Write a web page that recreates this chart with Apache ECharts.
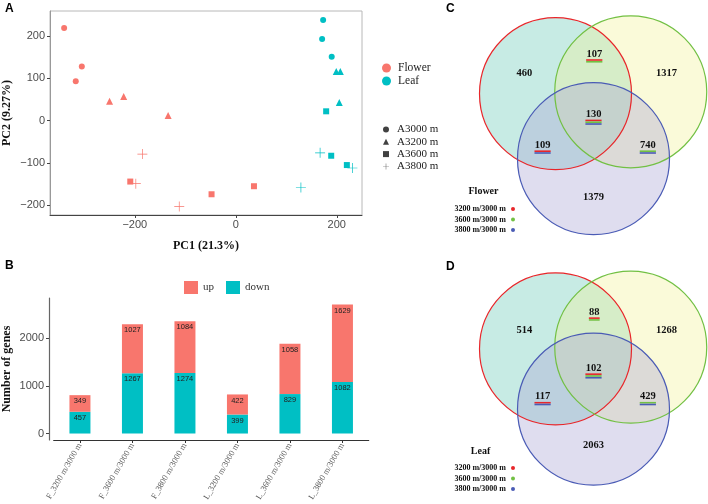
<!DOCTYPE html>
<html><head><meta charset="utf-8">
<script src="https://cdn.jsdelivr.net/npm/echarts@6/dist/echarts.min.js"></script>
<style>html,body{margin:0;padding:0;background:#fff}#c{width:708px;height:504px}</style>
</head><body><div id="c"></div>
<script>
// ---------- DATA ----------
// PCA scores [PC1, PC2, elevation]
const pcaFlower = [
  [-340, 219, 'A3000 m'], [-305, 128, 'A3000 m'], [-317, 93, 'A3000 m'],
  [-250, 46, 'A3200 m'], [-222, 57, 'A3200 m'], [-134, 12, 'A3200 m'],
  [-209, -144, 'A3600 m'], [-48, -174, 'A3600 m'], [36, -155, 'A3600 m'],
  [-185, -79, 'A3800 m'], [-198, -149, 'A3800 m'], [-112, -203, 'A3800 m']
];
const pcaLeaf = [
  [173, 238, 'A3000 m'], [171, 193, 'A3000 m'], [190, 151, 'A3000 m'],
  [199, 116, 'A3200 m'], [207, 116, 'A3200 m'], [205, 43, 'A3200 m'],
  [179, 22, 'A3600 m'], [189, -83, 'A3600 m'], [220, -105, 'A3600 m'],
  [167, -76, 'A3800 m'], [129, -158, 'A3800 m'], [231, -112, 'A3800 m']
];
const elevations = ['A3000 m', 'A3200 m', 'A3600 m', 'A3800 m'];
const pcaXTicks = [-200, 0, 200];
const pcaYTicks = [-200, -100, 0, 100, 200];

// DEG bar chart
const barCategories = ['F_3200 m/3000 m', 'F_3600 m/3000 m', 'F_3800 m/3000 m',
                       'L_3200 m/3000 m', 'L_3600 m/3000 m', 'L_3800 m/3000 m'];
const upValues = [349, 1027, 1084, 422, 1058, 1629];
const downValues = [457, 1267, 1274, 399, 829, 1082];
const barYTicks = [0, 1000, 2000];

// Venn: regions order = A only, B only, C only, A&B, A&C, B&C, A&B&C
const vennSetNames = ['3200 m/3000 m', '3600 m/3000 m', '3800 m/3000 m'];
const flowerVenn = [460, 1317, 1379, 107, 109, 740, 130];
const leafVenn = [514, 1268, 2063, 88, 117, 429, 102];

// ---------- LAYOUT / STYLE ----------
const SANS = 'Liberation Sans, Arial, sans-serif';
const SERIF = 'Liberation Serif, Times New Roman, serif';
const RED = '#F8766D', CYAN = '#00BFC4';
const shapeOf = {
  'A3000 m': 'circle', 'A3200 m': 'triangle', 'A3600 m': 'rect',
  'A3800 m': 'path://M4.65,0h0.7v4.65h4.65v0.7h-4.65v4.65h-0.7v-4.65h-4.65v-0.7h4.65z'
};
const sizeOf = {'A3000 m': 6, 'A3200 m': 7, 'A3600 m': 6, 'A3800 m': 10};
const vennStroke = ['#e8262a', '#72c043', '#4a5bb5'];
const vennFill = ['rgba(100,200,180,0.36)', 'rgba(240,240,150,0.36)', 'rgba(170,165,212,0.38)'];
// circle centres in units of radius
const vennCentres = [[0, 0], [0.99, -0.025], [0.5, 0.855]];
const regionPos = [[-0.41, -0.265], [1.46, -0.265], [0.5, 1.36], [0.51, -0.525], [-0.17, 0.675], [1.215, 0.675], [0.5, 0.27]];
const regionMask = [[0], [1], [2], [0, 1], [0, 2], [1, 2], [0, 1, 2]];

const chart = echarts.init(document.getElementById('c'), null, {renderer: 'canvas'});
const minus = v => String(v).replace('-', '\u2212');

function scatterSeries(name, data, color) {
  return {
    type: 'scatter', name: name, xAxisIndex: 0, yAxisIndex: 0,
    data: data,
    symbol: v => shapeOf[v[2]],
    symbolSize: v => sizeOf[v[2]],
    itemStyle: {color: color, opacity: 1},
    emphasis: {disabled: true}, z: 3
  };
}

function vennSeries(gi, counts) {
  const out = [];
  out.push({
    type: 'custom', xAxisIndex: gi, yAxisIndex: gi, silent: true, z: 1,
    data: vennCentres.map((c, i) => [c[0], c[1], i]),
    renderItem: (p, api) => {
      const pt = api.coord([api.value(0), api.value(1)]);
      const r = api.size([1, 0])[0];
      return {type: 'circle', shape: {cx: pt[0], cy: pt[1], r: r},
              style: {fill: vennFill[api.value(2)], stroke: null}};
    }
  });
  vennSetNames.forEach((nm, i) => {
    out.push({
      type: 'custom', name: nm, xAxisIndex: gi, yAxisIndex: gi, silent: true, z: 2,
      itemStyle: {color: vennStroke[i]},
      data: [[vennCentres[i][0], vennCentres[i][1]]],
      renderItem: (p, api) => {
        const pt = api.coord([api.value(0), api.value(1)]);
        const r = api.size([1, 0])[0];
        return {type: 'circle', shape: {cx: pt[0], cy: pt[1], r: r},
                style: {fill: null, stroke: vennStroke[i], lineWidth: 1.2}};
      }
    });
  });
  out.push({
    type: 'custom', xAxisIndex: gi, yAxisIndex: gi, silent: true, z: 4,
    data: counts.map((v, k) => [regionPos[k][0], regionPos[k][1], v, k]),
    renderItem: (p, api) => {
      const pt = api.coord([api.value(0), api.value(1)]);
      const txt = String(api.value(2));
      const k = api.value(3);
      const kids = [{type: 'text', x: pt[0], y: pt[1],
        style: {text: txt, fill: '#111', font: 'bold 10.5px ' + SERIF,
                align: 'center', verticalAlign: 'middle', textAlign: 'center', textVerticalAlign: 'middle'}}];
      const m = regionMask[k];
      if (m.length > 1) {
        const w = txt.length * 5.4;
        m.forEach((si, j) => {
          const yy = pt[1] + 6.2 + j * 1.8;
          kids.push({type: 'line', shape: {x1: pt[0] - w / 2, y1: yy, x2: pt[0] + w / 2, y2: yy},
                     style: {stroke: vennStroke[si], lineWidth: 1.6}});
        });
      }
      return {type: 'group', children: kids};
    }
  });
  return out;
}

const hiddenAxis = (idx, min, max, inverse) => ({
  gridIndex: idx, type: 'value', min: min, max: max, inverse: !!inverse, show: false,
  splitLine: {show: false}
});

const barLabel = {show: true, position: 'insideTop', distance: 2,
                  fontFamily: SANS, fontSize: 7.5, color: '#222'};

const option = {
  animation: false,
  backgroundColor: '#fff',
  grid: [
    {left: 48, top: 11, width: 314, height: 204, show: true, borderColor: '#b8b8b8', borderWidth: 1},
    {left: 52.7, top: 298, width: 316, height: 142},
    {left: 456.7, top: 10.1, width: 250.8, height: 250.8},
    {left: 456.7, top: 271.4, width: 250.8, height: 250.8}
  ],
  xAxis: [
    {gridIndex: 0, type: 'value', min: -368, max: 250,
     name: 'PC1 (21.3%)', nameLocation: 'middle', nameGap: 25,
     nameTextStyle: {fontFamily: SERIF, fontWeight: 'bold', fontSize: 12, color: '#111'},
     axisLine: {show: true, onZero: false, lineStyle: {color: '#444', width: 1}},
     axisTick: {show: true, length: 3, customValues: pcaXTicks, lineStyle: {color: '#444'}},
     axisLabel: {customValues: pcaXTicks, formatter: minus, fontFamily: SANS, fontSize: 11, color: '#4d4d4d', margin: 4},
     splitLine: {show: false}},
    {gridIndex: 1, type: 'category', data: barCategories, boundaryGap: true,
     axisLine: {show: true, onZero: false, lineStyle: {color: '#333', width: 1.2}},
     axisTick: {show: true, length: 3, alignWithLabel: true, lineStyle: {color: '#333'}},
     axisLabel: {interval: 0, rotate: 60, fontFamily: SERIF, fontSize: 8.5, color: '#555', margin: 4},
     splitLine: {show: false}},
    hiddenAxis(2, -1.3, 2.0),
    hiddenAxis(3, -1.3, 2.0)
  ],
  yAxis: [
    {gridIndex: 0, type: 'value', min: -223, max: 259,
     name: 'PC2 (9.27%)', nameLocation: 'middle', nameGap: 37, nameRotate: 90,
     nameTextStyle: {fontFamily: SERIF, fontWeight: 'bold', fontSize: 12, color: '#111'},
     axisLine: {show: true, onZero: false, lineStyle: {color: '#999', width: 1}},
     axisTick: {show: true, length: 3, customValues: pcaYTicks, lineStyle: {color: '#444'}},
     axisLabel: {customValues: pcaYTicks, formatter: minus, fontFamily: SANS, fontSize: 11, color: '#4d4d4d', margin: 5},
     splitLine: {show: false}},
    {gridIndex: 1, type: 'value', min: -136, max: 2847, offset: 4.7,
     name: 'Number of genes', nameLocation: 'middle', nameGap: 36, nameRotate: 90,
     nameTextStyle: {fontFamily: SERIF, fontWeight: 'bold', fontSize: 12, color: '#111'},
     axisLine: {show: true, onZero: false, lineStyle: {color: '#666', width: 1.2}},
     axisTick: {show: true, length: 3, customValues: barYTicks, lineStyle: {color: '#444'}},
     axisLabel: {customValues: barYTicks, formatter: v => String(v), fontFamily: SANS, fontSize: 11, color: '#4d4d4d', margin: 5},
     splitLine: {show: false}},
    hiddenAxis(2, -1.1, 2.2, true),
    hiddenAxis(3, -1.1, 2.2, true)
  ],
  legend: [
    {orient: 'vertical', left: 377, top: 57, itemWidth: 9, itemHeight: 9, itemGap: 1, icon: 'circle',
     data: ['Flower', 'Leaf'], selectedMode: false,
     textStyle: {fontFamily: SERIF, fontSize: 11.5, color: '#222', padding: [0, 0, 0, 2]}},
    {orient: 'vertical', left: 378, top: 119, itemWidth: 6, itemHeight: 6, itemGap: 1.3, selectedMode: false,
     data: elevations.map(e => ({name: e, icon: shapeOf[e]})),
     textStyle: {fontFamily: SERIF, fontSize: 11, color: '#222', padding: [0, 0, 0, 3]}},
    {orient: 'horizontal', left: 179, top: 276, itemWidth: 14, itemHeight: 13, itemGap: 12, selectedMode: false,
     data: ['up', 'down'], icon: 'rect',
     textStyle: {fontFamily: SERIF, fontSize: 11, color: '#333'}},
    {orient: 'vertical', right: 188, top: 200, itemWidth: 4, itemHeight: 4, itemGap: 2.5, align: 'right',
     icon: 'circle', selectedMode: false, data: vennSetNames,
     textStyle: {fontFamily: SERIF, fontWeight: 'bold', fontSize: 8, color: '#111'}},
    {orient: 'vertical', right: 188, top: 459, itemWidth: 4, itemHeight: 4, itemGap: 2.5, align: 'right',
     icon: 'circle', selectedMode: false, data: vennSetNames,
     textStyle: {fontFamily: SERIF, fontWeight: 'bold', fontSize: 8, color: '#111'}}
  ],
  graphic: [
    {type: 'text', x: 5, y: 3, style: {text: 'A', font: 'bold 12px ' + SANS, fill: '#000'}},
    {type: 'text', x: 5, y: 260, style: {text: 'B', font: 'bold 12px ' + SANS, fill: '#000'}},
    {type: 'text', x: 446, y: 3, style: {text: 'C', font: 'bold 12px ' + SANS, fill: '#000'}},
    {type: 'text', x: 446, y: 261, style: {text: 'D', font: 'bold 12px ' + SANS, fill: '#000'}},
    {type: 'text', x: 483.5, y: 191, style: {text: 'Flower', font: 'bold 10px ' + SERIF, fill: '#111',
      align: 'center', verticalAlign: 'middle', textAlign: 'center', textVerticalAlign: 'middle'}},
    {type: 'text', x: 480.5, y: 451, style: {text: 'Leaf', font: 'bold 10px ' + SERIF, fill: '#111',
      align: 'center', verticalAlign: 'middle', textAlign: 'center', textVerticalAlign: 'middle'}}
  ],
  series: [
    scatterSeries('Flower', pcaFlower, RED),
    scatterSeries('Leaf', pcaLeaf, CYAN),
    ...elevations.map(e => ({type: 'scatter', name: e, xAxisIndex: 0, yAxisIndex: 0, data: [],
                             symbol: shapeOf[e], itemStyle: {color: '#111'}})),
    {type: 'bar', name: 'down', xAxisIndex: 1, yAxisIndex: 1, stack: 'deg', barWidth: 21,
     data: downValues, itemStyle: {color: CYAN}, label: barLabel},
    {type: 'bar', name: 'up', xAxisIndex: 1, yAxisIndex: 1, stack: 'deg', barWidth: 21,
     data: upValues, itemStyle: {color: RED}, label: barLabel},
    ...vennSeries(2, flowerVenn),
    ...vennSeries(3, leafVenn)
  ]
};
chart.setOption(option);
</script>
</body></html>
